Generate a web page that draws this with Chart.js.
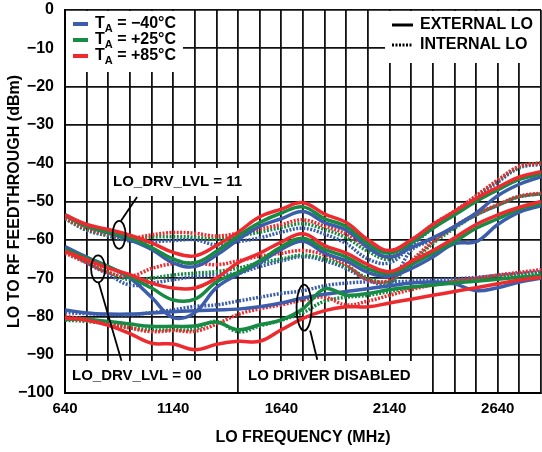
<!DOCTYPE html>
<html>
<head>
<meta charset="utf-8">
<script src="https://cdn.jsdelivr.net/npm/chart.js@4.4.0/dist/chart.umd.min.js"></script>
<style>
  html, body { margin: 0; padding: 0; background: #fff; }
</style>
</head>
<body>
<canvas id="feedChart" width="542" height="452"></canvas>
<script>
/* LO frequency points (MHz) */
const freqs = [640, 740, 840, 940, 1040, 1140, 1240, 1340, 1440, 1540, 1640, 1740,
               1840, 1940, 2040, 2140, 2240, 2340, 2440, 2540, 2640, 2740, 2840];
const yTicks = [0, -10, -20, -30, -40, -50, -60, -70, -80, -90, -100];
const xLabels = [640, 1140, 1640, 2140, 2640];

/* LO_DRV_LVL = 11 */
const lvl11ExtHot  = [-53.5, -56, -57.3, -58.8, -60.8, -63.3, -64.2, -61.5, -58, -54, -52, -50.3, -53.3, -55.5, -60, -62.8, -60, -56, -52.6, -49.2, -46.3, -43.6, -42.2];
const lvl11ExtRoom = [-53.5, -56.5, -58, -59.5, -62, -65, -66, -63, -59, -55.5, -53, -51.4, -54.5, -56.5, -61, -63.5, -60.8, -57, -53.5, -50, -47, -44.2, -42.8];
const lvl11ExtCold = [-53.5, -56.5, -58.2, -60, -62.5, -66, -67, -64, -60, -56.5, -54.5, -52.6, -55.5, -57.5, -62, -64.5, -62, -59.5, -56.5, -53, -48.5, -45.5, -43.5];
const lvl11IntHot  = [-54.3, -57, -58.5, -59.5, -58.7, -58.1, -58.3, -59, -58.3, -57.2, -56, -54.8, -56.5, -58.5, -62, -64.5, -60.5, -56, -52.5, -48.5, -44.4, -40.8, -40];
const lvl11IntRoom = [-54.5, -57.3, -58.8, -59.8, -59.3, -59.2, -59.3, -59.8, -59, -58, -56.8, -55.8, -57.3, -59.5, -63, -65, -61, -56.5, -52.8, -48.6, -44.5, -41, -39.8];
const lvl11IntCold = [-54.5, -57.5, -59, -60.3, -60.5, -60.2, -60, -61.3, -60.5, -59.5, -58, -57, -58.5, -61, -65, -66, -61.5, -57, -53, -49, -45, -41.2, -40.3];

/* LO_DRV_LVL = 00 */
const lvl00ExtHot  = [-63, -65.2, -67.4, -69.1, -71.3, -72.6, -72.6, -70, -66, -63.5, -60.6, -58.4, -61.5, -63.5, -66.5, -68.3, -65.7, -62.8, -59.5, -56, -53.5, -51.5, -50];
const lvl00ExtRoom = [-62.5, -64.8, -67, -69.6, -72.6, -75.7, -75.5, -71, -68.5, -65.5, -61.8, -59.6, -62.5, -64.5, -67.5, -68.8, -66.5, -63.5, -60.5, -57, -54.5, -52, -50.5];
const lvl00ExtCold = [-61.8, -64.5, -67, -70, -75, -80.3, -79, -72.5, -69, -66, -62.5, -60.4, -63.5, -65.5, -68.5, -69.5, -67.5, -64.5, -61, -60.5, -56, -52.8, -51.1];
const lvl00IntHot  = [-63.5, -66, -68.5, -69.5, -67.5, -66.2, -66, -66.5, -65.5, -64.3, -63.5, -62.8, -64, -66.5, -70.5, -70.5, -65.5, -60.5, -56.5, -53.3, -50.8, -48.6, -47.8];
const lvl00IntRoom = [-63, -65.8, -68.5, -70.4, -70, -69.2, -68.7, -68.3, -67.4, -66, -65, -64, -65, -67, -70, -71, -66, -61, -57, -53.5, -51, -48.8, -48];
const lvl00IntCold = [-62.5, -66, -69, -71.8, -71.3, -70.4, -69.6, -69.1, -68.7, -67, -65.5, -64.4, -65.5, -67.5, -70.5, -71.5, -62.8, -60, -56.7, -53.5, -51, -48.7, -48];

/* LO driver disabled */
const offExtHot  = [-80.5, -81, -82.3, -84.5, -87, -87.2, -88.7, -87.3, -86.5, -86.5, -83.5, -80.5, -78.5, -77.5, -77.5, -76.5, -75.5, -74.5, -73.5, -72.5, -71.5, -70.5, -69.8];
const offExtRoom = [-80.8, -80.8, -81.3, -82, -82.6, -82.6, -82.5, -81.5, -83.5, -82.2, -80.9, -78, -72.8, -74.4, -74, -73, -72.3, -71.8, -71.3, -70.8, -70.3, -69.8, -69.3];
const offExtCold = [-78.3, -79.1, -79.4, -79.4, -79.1, -78.8, -78.5, -78.3, -78.1, -77.5, -76.5, -75.2, -74.2, -73.5, -72.8, -72, -71.3, -71, -71.5, -73.3, -72.5, -71, -70];
const offIntHot  = [-80, -80.7, -81.7, -83, -84, -83.7, -83.9, -82, -79.5, -78, -77, -75.7, -75, -77, -76, -74.5, -73, -71.8, -70.8, -70, -69.2, -68.5, -67.8];
const offIntRoom = [-81, -81.3, -82, -83, -83.5, -83.5, -83.3, -81.3, -84, -82.5, -81, -79, -76, -75, -74.5, -73.5, -72.5, -71.8, -71, -70.5, -69.8, -69.3, -68.8];
const offIntCold = [-79, -79.3, -79.5, -79.6, -79, -78.3, -77.4, -77, -76, -75, -74, -73.3, -72, -71.3, -71, -71, -70.8, -70.5, -70.2, -69.8, -69.3, -68.8, -68.3];

const RED = '#ee2a2e', GREEN = '#178a44', BLUE = '#3b5dab';
const FONT = '"Liberation Sans", Arial, Helvetica, sans-serif';

function series(values, color, dotted) {
    return {
        data: freqs.map((f, i) => ({ x: f, y: values[i] })),
        borderColor: color,
        borderWidth: 3.5,
        borderDash: dotted ? [2, 1.5] : [],
        pointRadius: 0,
        tension: 0.4,
        fill: false
    };
}

// first dataset ends up on top
const datasets = [
    series(lvl11ExtHot, RED), series(lvl11ExtRoom, GREEN), series(lvl11ExtCold, BLUE),
    series(lvl00ExtHot, RED), series(lvl00ExtRoom, GREEN), series(lvl00ExtCold, BLUE),
    series(offExtHot, RED), series(offExtRoom, GREEN), series(offExtCold, BLUE),
    series(lvl11IntHot, RED, true), series(lvl11IntRoom, GREEN, true), series(lvl11IntCold, BLUE, true),
    series(lvl00IntHot, RED, true), series(lvl00IntRoom, GREEN, true), series(lvl00IntCold, BLUE, true),
    series(offIntHot, RED, true), series(offIntRoom, GREEN, true), series(offIntCold, BLUE, true)
];

function minus(v) {
    return v < 0 ? '\u2212' + Math.abs(v) : String(v);
}

/* legends, label boxes, ellipses */
const notes = {
    id: 'notes',
    beforeDatasetsDraw(chart) {
        const ctx = chart.ctx;
        const a = chart.chartArea;
        ctx.save();
        ctx.fillStyle = '#fff';
        // white patches over the grid
        ctx.fillRect(a.left + 1, a.top + 1, 117, 61);
        ctx.fillRect(385, a.top + 1, a.right - 386, 52);
        ctx.fillRect(110, 168, 142, 28);
        ctx.fillRect(a.left + 1, 361, 158, a.bottom - 362);
        ctx.fillRect(240, 361, 188, a.bottom - 362);

        // temperature legend
        const temps = [['\u221240\u00b0C', BLUE], ['+25\u00b0C', GREEN], ['+85\u00b0C', RED]];
        temps.forEach((t, i) => {
            const y = 24 + i * 16;
            ctx.strokeStyle = t[1];
            ctx.lineWidth = 4;
            ctx.setLineDash([]);
            ctx.beginPath();
            ctx.moveTo(73, y);
            ctx.lineTo(88, y);
            ctx.stroke();
            ctx.fillStyle = '#000';
            ctx.textBaseline = 'middle';
            ctx.font = 'bold 16px ' + FONT;
            ctx.fillText('T', 95, y);
            let x = 95 + ctx.measureText('T').width;
            ctx.font = 'bold 11px ' + FONT;
            ctx.fillText('A', x, y + 5);
            x += ctx.measureText('A').width;
            ctx.font = 'bold 16px ' + FONT;
            ctx.fillText(' = ' + t[0], x, y);
        });

        // LO source legend
        ctx.strokeStyle = '#000';
        ctx.lineWidth = 3;
        ctx.beginPath();
        ctx.moveTo(392, 25);
        ctx.lineTo(413, 25);
        ctx.stroke();
        ctx.setLineDash([2, 1.5]);
        ctx.beginPath();
        ctx.moveTo(392, 45);
        ctx.lineTo(413, 45);
        ctx.stroke();
        ctx.setLineDash([]);
        ctx.fillStyle = '#000';
        ctx.font = 'bold 16px ' + FONT;
        ctx.fillText('EXTERNAL LO', 420, 25);
        ctx.fillText('INTERNAL LO', 420, 45);

        // group labels
        ctx.font = 'bold 15px ' + FONT;
        ctx.fillText('LO_DRV_LVL = 11', 113, 182);
        ctx.fillText('LO_DRV_LVL = 00', 72, 376);
        ctx.fillText('LO DRIVER DISABLED', 248, 376);
        ctx.restore();
    },
    afterDatasetsDraw(chart) {
        const ctx = chart.ctx;
        const sx = chart.scales.x, sy = chart.scales.y;
        const px = (f, v) => [sx.getPixelForValue(f), sy.getPixelForValue(v)];
        ctx.save();
        ctx.strokeStyle = '#000';
        ctx.lineWidth = 1.8;
        const rings = [[890, -58.7, 6.5, 14], [793, -67.6, 7, 13.5], [1745, -77.7, 7.5, 23]];
        rings.forEach(r => {
            const [cx, cy] = px(r[0], r[1]);
            ctx.beginPath();
            ctx.ellipse(cx, cy, r[2], r[3], 0, 0, Math.PI * 2);
            ctx.stroke();
        });
        const leaders = [[[973, -48.8], [899, -55]], [[795, -71], [901, -91.6]], [[1773, -83.7], [1806, -91.3]]];
        leaders.forEach(l => {
            const p0 = px(l[0][0], l[0][1]);
            const p1 = px(l[1][0], l[1][1]);
            ctx.beginPath();
            ctx.moveTo(p0[0], p0[1]);
            ctx.lineTo(p1[0], p1[1]);
            ctx.stroke();
        });
        ctx.restore();
    }
};

new Chart(document.getElementById('feedChart'), {
    type: 'line',
    data: { datasets: datasets },
    options: {
        responsive: false,
        animation: false,
        devicePixelRatio: 1,
        layout: { padding: { top: 10, right: 1, left: 0, bottom: 0 } },
        plugins: { legend: { display: false }, tooltip: { enabled: false } },
        scales: {
            x: {
                type: 'linear',
                min: 640,
                max: 2840,
                afterFit: s => {
                    s.height = 59;
                    s.paddingLeft = 0;
                    s.paddingRight = 0;
                },
                afterBuildTicks: s => {
                    s.ticks = freqs.map(f => ({ value: f }));
                },
                ticks: {
                    autoSkip: false,
                    maxRotation: 0,
                    padding: 7,
                    color: '#000',
                    font: { family: FONT, size: 15, weight: 'bold' },
                    callback: v => xLabels.includes(v) ? String(v) : ''
                },
                grid: { color: '#111', lineWidth: 1.8, drawTicks: false },
                border: { color: '#000', width: 2 },
                title: {
                    display: true,
                    text: 'LO FREQUENCY (MHz)',
                    color: '#000',
                    font: { family: FONT, size: 16, weight: 'bold' },
                    padding: { top: 0, bottom: 5 }
                }
            },
            y: {
                min: -100,
                max: 0,
                afterFit: s => {
                    s.width = 65;
                    s.paddingTop = 0;
                    s.paddingBottom = 0;
                },
                afterBuildTicks: s => {
                    s.ticks = yTicks.map(v => ({ value: v }));
                },
                ticks: {
                    padding: 11,
                    color: '#000',
                    font: { family: FONT, size: 16, weight: 'bold' },
                    callback: v => minus(v)
                },
                grid: { color: '#111', lineWidth: 1.8, drawTicks: false },
                border: { color: '#000', width: 2 },
                title: {
                    display: true,
                    text: 'LO TO RF FEEDTHROUGH (dBm)',
                    color: '#000',
                    font: { family: FONT, size: 16, weight: 'bold' },
                    padding: { top: 5, bottom: 0 }
                }
            }
        }
    },
    plugins: [notes]
});
</script>
</body>
</html>
